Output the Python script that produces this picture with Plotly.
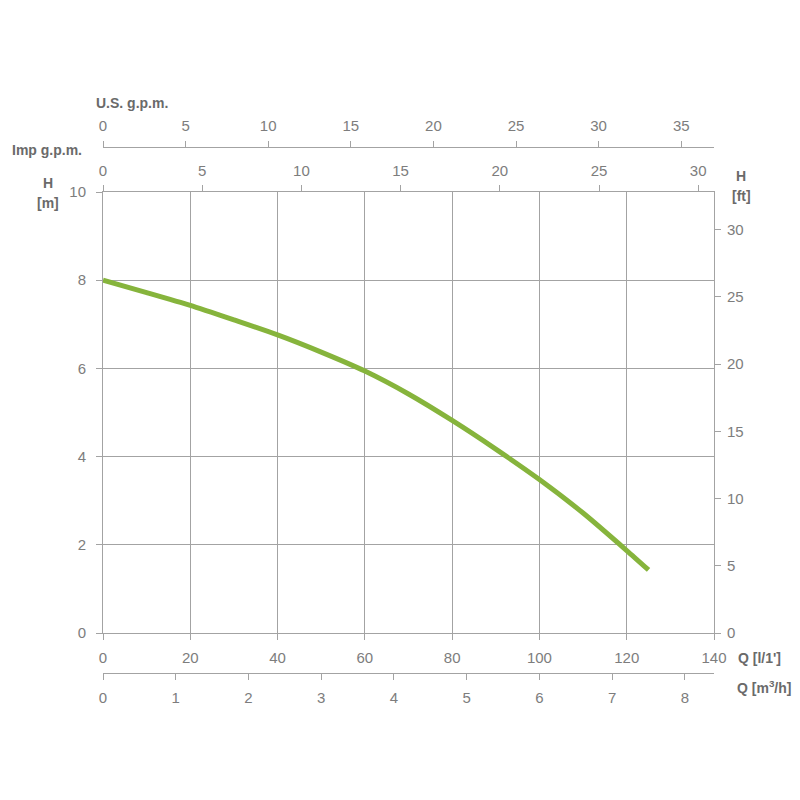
import plotly.graph_objects as go

# Pump curve data (Q in l/min, H in m)
q_lmin = [0, 10, 20, 30, 40, 50, 60, 70, 80, 90, 100, 110, 120, 125]
h_m = [8.0, 7.72, 7.43, 7.1, 6.76, 6.37, 5.94, 5.42, 4.82, 4.17, 3.48, 2.72, 1.87, 1.43]

q_max = 140
h_max = 10
q_ticks = [0, 20, 40, 60, 80, 100, 120, 140]
h_ticks = [0, 2, 4, 6, 8, 10]
ft_ticks = [0, 5, 10, 15, 20, 25, 30]
m3h_ticks = [0, 1, 2, 3, 4, 5, 6, 7, 8]
us_ticks = [0, 5, 10, 15, 20, 25, 30, 35]
imp_ticks = [0, 5, 10, 15, 20, 25, 30]

M_TO_FT = 3.28084
LMIN_TO_M3H = 0.06
LMIN_TO_USGPM = 1 / 3.78541
LMIN_TO_IMPGPM = 1 / 4.54609

GRID = "#a3a3a3"
TXT = "#7d7d7d"
TITLE = "#6a6a6a"
GREEN = "#86b43c"
FONT = "Liberation Sans, Arial, sans-serif"

# page offset (default body margin of the html page)
OFF = 8
W = H = 800 - OFF

# target pixel layout (page coordinates)
L, R = 103, 714
T_PAPER, B_PAPER = 147, 673
PLOT_TOP, PLOT_BOT = 192, 633


def px(xp):
    return (xp - L) / (R - L)


def py(yp):
    return (B_PAPER - yp) / (B_PAPER - T_PAPER)


fig = go.Figure()
fig.add_trace(go.Scatter(
    x=q_lmin, y=h_m, mode="lines",
    line=dict(color=GREEN, width=5, shape="spline", smoothing=0.6),
    xaxis="x", yaxis="y", showlegend=False, hoverinfo="skip",
))
# invisible traces to activate secondary axes
for xa, ya in [("x2", "y"), ("x3", "y"), ("x4", "y"), ("x", "y2")]:
    fig.add_trace(go.Scatter(x=[0], y=[0], xaxis=xa, yaxis=ya, mode="markers",
                             marker=dict(opacity=0), showlegend=False, hoverinfo="skip"))

tickfont = dict(family=FONT, size=15, color=TXT)
common = dict(showline=True, linecolor=GRID, linewidth=1, ticks="outside",
              ticklen=6, tickcolor=GRID, tickwidth=1, tickfont=tickfont,
              zeroline=False, fixedrange=True)

ydom = [py(PLOT_BOT), py(PLOT_TOP)]

fig.update_layout(
    width=W, height=H, autosize=False,
    margin=dict(l=L - OFF, r=W - (R - OFF), t=T_PAPER - OFF, b=H - (B_PAPER - OFF), pad=0),
    paper_bgcolor="white", plot_bgcolor="white",
    font=dict(family=FONT, color=TXT),
    xaxis=dict(range=[0, q_max], tickvals=q_ticks, showgrid=True, gridcolor=GRID,
               gridwidth=1, anchor="y", side="bottom", ticklabelstandoff=5, **common),
    xaxis2=dict(range=[0, q_max * LMIN_TO_M3H], tickvals=m3h_ticks, showgrid=False,
                overlaying="x", anchor="free", position=0, side="bottom",
                ticklabelstandoff=5, **common),
    xaxis3=dict(range=[0, q_max * LMIN_TO_IMPGPM], tickvals=imp_ticks, showgrid=False,
                overlaying="x", anchor="y", side="top", ticklabelstandoff=3, **common),
    xaxis4=dict(range=[0, q_max * LMIN_TO_USGPM], tickvals=us_ticks, showgrid=False,
                overlaying="x", anchor="free", position=1, side="top",
                ticklabelstandoff=4, **common),
    yaxis=dict(range=[0, h_max], tickvals=h_ticks, showgrid=True, gridcolor=GRID,
               gridwidth=1, domain=ydom, side="left", anchor="x",
               ticklabelstandoff=7, **common),
    yaxis2=dict(range=[0, h_max * M_TO_FT], tickvals=ft_ticks, showgrid=False,
                overlaying="y", side="right", anchor="x", ticklabelstandoff=3, **common),
)

tfont = dict(family=FONT, size=14, color=TITLE)
anns = [
    dict(text="<b>U.S. g.p.m.</b>", x=px(94), y=py(103), xanchor="left", yanchor="middle"),
    dict(text="<b>Imp g.p.m.</b>", x=px(84), y=py(150), xanchor="right", yanchor="middle"),
    dict(text="<b>H</b>", x=px(48), y=py(183), xanchor="center", yanchor="middle"),
    dict(text="<b>[m]</b>", x=px(48), y=py(203), xanchor="center", yanchor="middle"),
    dict(text="<b>H</b>", x=px(741), y=py(176), xanchor="center", yanchor="middle"),
    dict(text="<b>[ft]</b>", x=px(741), y=py(196), xanchor="center", yanchor="middle"),
    dict(text="<b>Q [l/1']</b>", x=px(736), y=py(658), xanchor="left", yanchor="middle"),
    dict(text="<b>Q [m<sup>3</sup>/h]</b>", x=px(735), y=py(687), xanchor="left", yanchor="middle"),
]
for a in anns:
    a.update(xref="paper", yref="paper", showarrow=False, font=tfont)
fig.update_layout(annotations=anns)

fig.write_html("out.html")
